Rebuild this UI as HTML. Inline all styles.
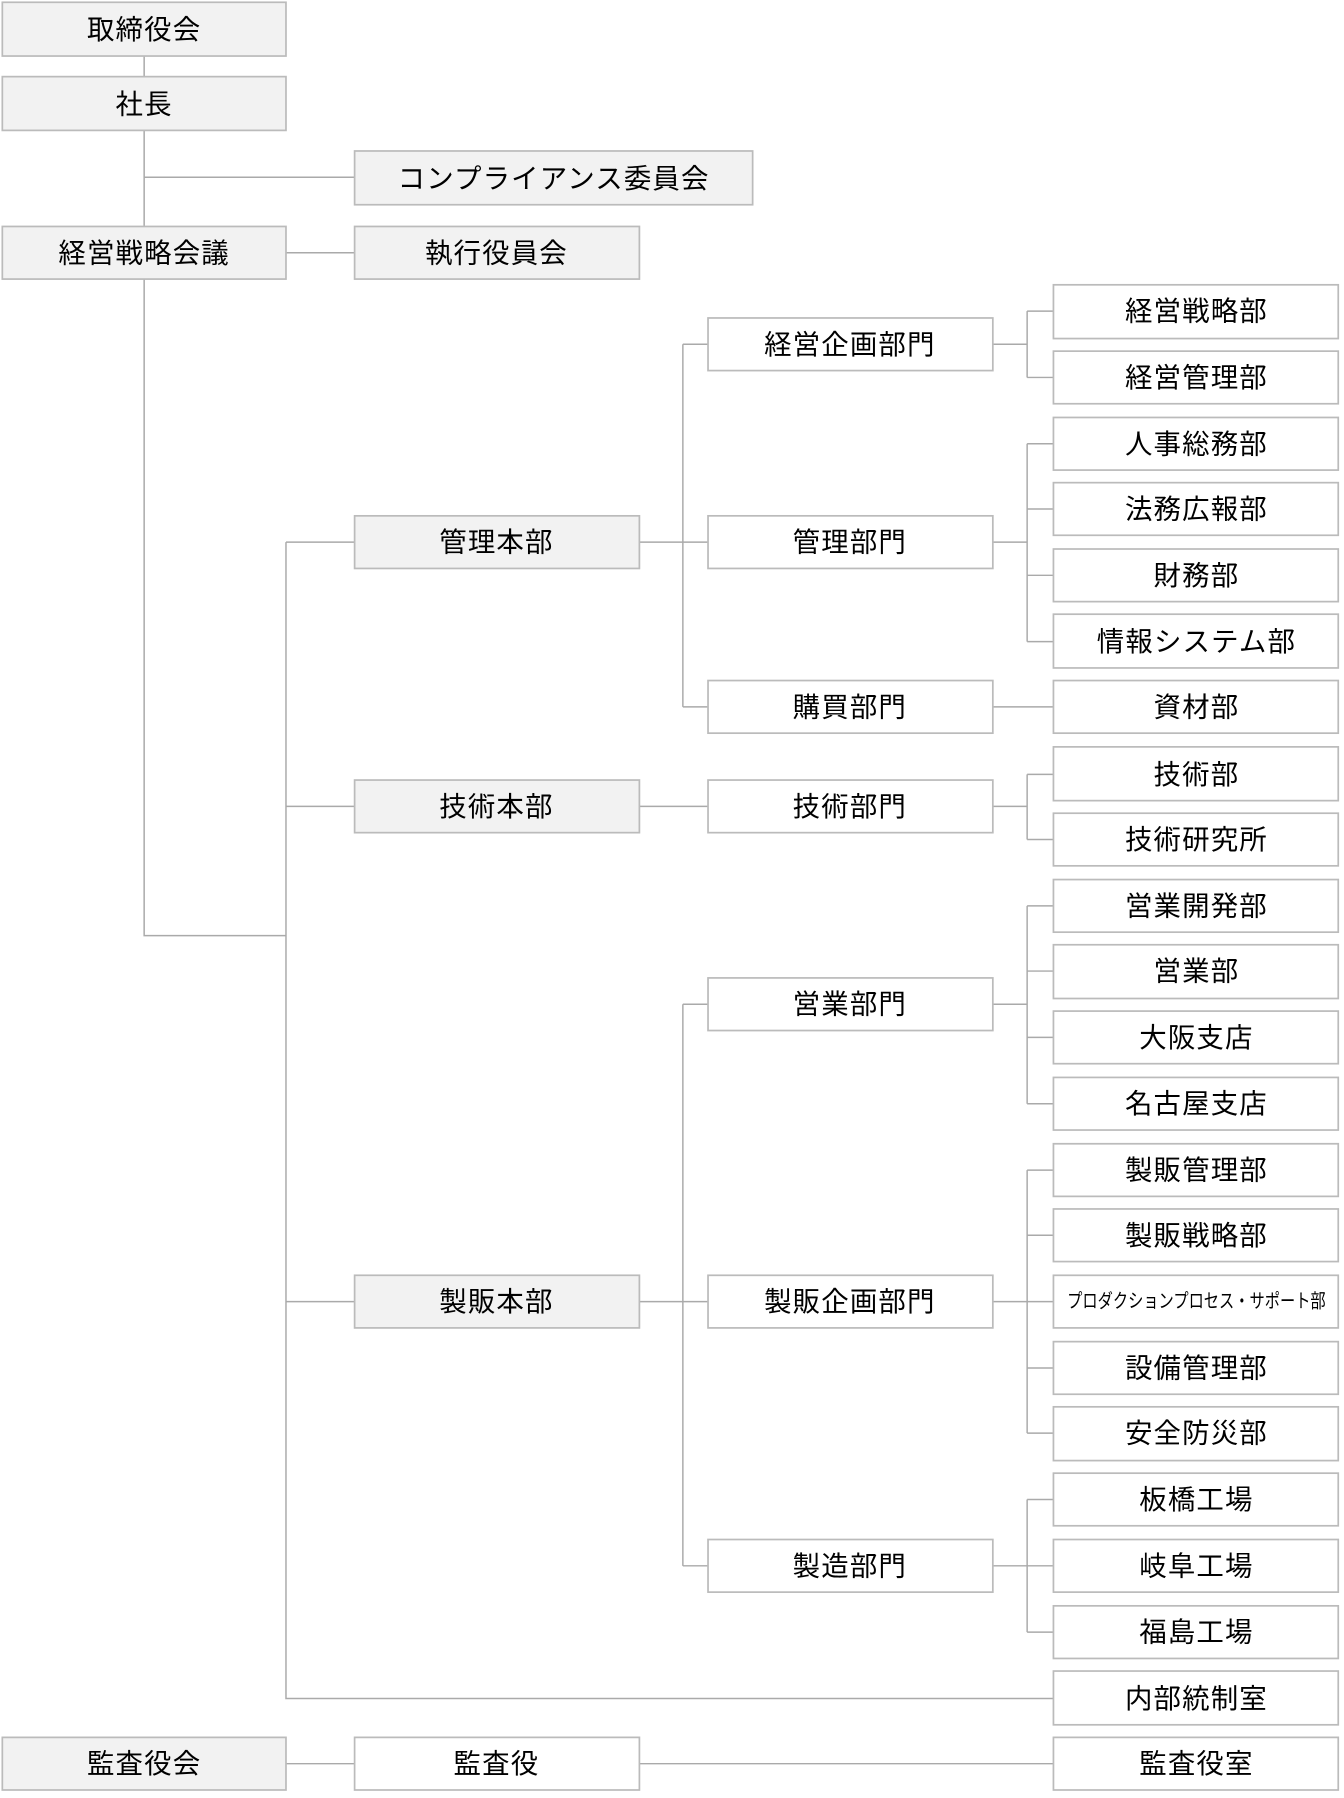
<!DOCTYPE html>
<html><head><meta charset="utf-8"><style>html,body{margin:0;padding:0;background:#fff}svg{display:block}</style></head><body>
<svg width="1344" height="1798" viewBox="0 0 1175 1572" xmlns="http://www.w3.org/2000/svg" font-family="'Liberation Sans','Noto Sans CJK JP',sans-serif">
<g stroke="#aaa" stroke-width="1.3" fill="none">
<path d="M126 49V818H250M126 155H310M250 221H310"/>
<path d="M250 474V1485H921M250 474H310M250 705H310M250 1138H310M250 1542H310M559 1542H921"/>
<path d="M559 474H619M597 301V618M597 301H619M597 618H619"/>
<path d="M868 301H898M898 272V330M898 272H921M898 330H921"/>
<path d="M868 474H898M898 388V561M898 388H921M898 445H921M898 503H921M898 561H921"/>
<path d="M868 618H921"/>
<path d="M559 705H619M868 705H898M898 677V734M898 677H921M898 734H921"/>
<path d="M559 1138H619M597 878V1369M597 878H619M597 1369H619"/>
<path d="M868 878H898M898 792V965M898 792H921M898 849H921M898 907H921M898 965H921"/>
<path d="M868 1138H898M898 1023V1253M898 1023H921M898 1080H921M898 1138H921M898 1196H921M898 1253H921"/>
<path d="M868 1369H898M898 1311V1427M898 1311H921M898 1369H921M898 1427H921"/>
</g>
<g stroke="#bbb" stroke-width="1.5">
<g fill="#f2f2f2">
<rect x="2" y="2" width="248" height="47"/>
<rect x="2" y="67" width="248" height="47"/>
<rect x="310" y="132" width="348" height="47"/>
<rect x="2" y="198" width="248" height="46"/>
<rect x="310" y="198" width="249" height="46"/>
<rect x="310" y="451" width="249" height="46"/>
<rect x="310" y="682" width="249" height="46"/>
<rect x="310" y="1115" width="249" height="46"/>
<rect x="2" y="1519" width="248" height="46"/>
</g>
<g fill="#fff">
<rect x="619" y="278" width="249" height="46"/>
<rect x="619" y="451" width="249" height="46"/>
<rect x="619" y="595" width="249" height="46"/>
<rect x="619" y="682" width="249" height="46"/>
<rect x="619" y="855" width="249" height="46"/>
<rect x="619" y="1115" width="249" height="46"/>
<rect x="619" y="1346" width="249" height="46"/>
<rect x="310" y="1519" width="249" height="46"/>
<rect x="921" y="249" width="249" height="47"/>
<rect x="921" y="307" width="249" height="46"/>
<rect x="921" y="365" width="249" height="46"/>
<rect x="921" y="422" width="249" height="46"/>
<rect x="921" y="480" width="249" height="46"/>
<rect x="921" y="537" width="249" height="47"/>
<rect x="921" y="595" width="249" height="46"/>
<rect x="921" y="653" width="249" height="47"/>
<rect x="921" y="711" width="249" height="46"/>
<rect x="921" y="769" width="249" height="46"/>
<rect x="921" y="826" width="249" height="47"/>
<rect x="921" y="884" width="249" height="46"/>
<rect x="921" y="942" width="249" height="46"/>
<rect x="921" y="1000" width="249" height="46"/>
<rect x="921" y="1057" width="249" height="46"/>
<rect x="921" y="1115" width="249" height="46"/>
<rect x="921" y="1173" width="249" height="46"/>
<rect x="921" y="1230" width="249" height="47"/>
<rect x="921" y="1288" width="249" height="46"/>
<rect x="921" y="1346" width="249" height="46"/>
<rect x="921" y="1404" width="249" height="46"/>
<rect x="921" y="1461" width="249" height="47"/>
<rect x="921" y="1519" width="249" height="46"/>
</g>
</g>
<g fill="#000" font-size="24" text-anchor="middle" dominant-baseline="central" letter-spacing="1">
<text x="126" y="26">取締役会</text>
<text x="126" y="91">社長</text>
<text x="484" y="156">コンプライアンス委員会</text>
<text x="126" y="221">経営戦略会議</text>
<text x="434" y="221">執行役員会</text>
<text x="434" y="474">管理本部</text>
<text x="434" y="705">技術本部</text>
<text x="434" y="1138">製販本部</text>
<text x="126" y="1542">監査役会</text>
<text x="434" y="1542">監査役</text>
<text x="743" y="301">経営企画部門</text>
<text x="743" y="474">管理部門</text>
<text x="743" y="618">購買部門</text>
<text x="743" y="705">技術部門</text>
<text x="743" y="878">営業部門</text>
<text x="743" y="1138">製販企画部門</text>
<text x="743" y="1369">製造部門</text>
<text x="1046" y="272">経営戦略部</text>
<text x="1046" y="330">経営管理部</text>
<text x="1046" y="388">人事総務部</text>
<text x="1046" y="445">法務広報部</text>
<text x="1046" y="503">財務部</text>
<text x="1046" y="561">情報システム部</text>
<text x="1046" y="618">資材部</text>
<text x="1046" y="677">技術部</text>
<text x="1046" y="734">技術研究所</text>
<text x="1046" y="792">営業開発部</text>
<text x="1046" y="849">営業部</text>
<text x="1046" y="907">大阪支店</text>
<text x="1046" y="965">名古屋支店</text>
<text x="1046" y="1023">製販管理部</text>
<text x="1046" y="1080">製販戦略部</text>
<text x="1046" y="1138" font-size="17" letter-spacing="0" textLength="226" lengthAdjust="spacingAndGlyphs">プロダクションプロセス・サポート部</text>
<text x="1046" y="1196">設備管理部</text>
<text x="1046" y="1253">安全防災部</text>
<text x="1046" y="1311">板橋工場</text>
<text x="1046" y="1369">岐阜工場</text>
<text x="1046" y="1427">福島工場</text>
<text x="1046" y="1485">内部統制室</text>
<text x="1046" y="1542">監査役室</text>
</g>
</svg>
</body></html>
